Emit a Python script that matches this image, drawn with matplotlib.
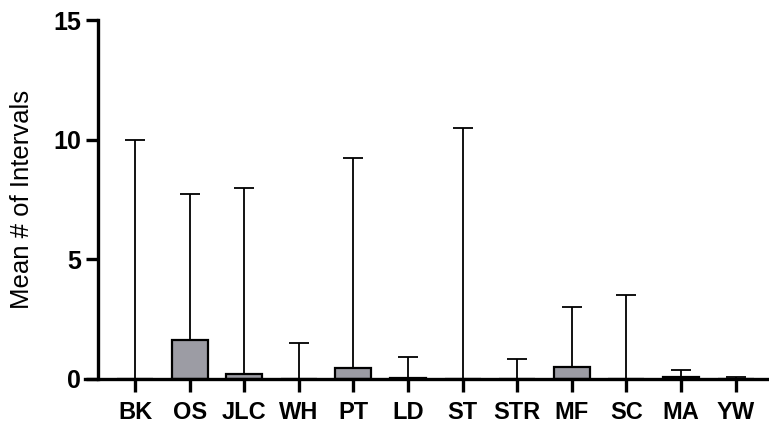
import numpy as np
import matplotlib.pyplot as plt

plt.rcParams['font.family'] = ['Liberation Sans', 'DejaVu Sans']

groups = ['BK', 'OS', 'JLC', 'WH', 'PT', 'LD', 'ST', 'STR', 'MF', 'SC', 'MA', 'YW']
means = np.array([0.02, 1.65, 0.2, 0.02, 0.45, 0.05, 0.02, 0.02, 0.5, 0.02, 0.08, 0.02])
upper = np.array([10.0, 7.75, 8.0, 1.5, 9.25, 0.93, 10.5, 0.83, 3.0, 3.5, 0.38, 0.1])

fig = plt.figure(figsize=(7.69, 4.28), dpi=100)
ax = fig.add_axes([85 / 769, 49 / 428, 1 - 85 / 769, 359 / 428])

x = np.arange(len(groups))
ax.bar(x, means, width=0.66, color='#9c9ca4', edgecolor='black', linewidth=1.6, zorder=2)
ax.errorbar(x, means, yerr=[np.zeros(len(x)), upper - means], fmt='none',
            ecolor='black', elinewidth=1.3, capsize=7, capthick=1.3, zorder=3)

ax.set_xlim(-0.916, 11.61)
ax.set_ylim(0, 15)
ax.spines['top'].set_visible(False)
ax.spines['right'].set_visible(False)
ax.spines['left'].set_position(('data', -0.678))
for s in ('left', 'bottom'):
    ax.spines[s].set_linewidth(2.4)
ax.spines['bottom'].set_zorder(4)

ax.set_xticks(x)
ax.set_xticklabels(groups, fontsize=17, fontweight='bold')
ax.set_yticks([0, 5, 10, 15])
ax.set_yticklabels(['0', '5', '10', '15'], fontsize=18, fontweight='bold')
ax.tick_params(axis='both', direction='out', length=9, width=2.4, pad=3)
ax.tick_params(axis='x', pad=7)
ax.set_ylabel('Mean # of Intervals', fontsize=18.5, labelpad=14)

fig.savefig('out.png', dpi=100)
